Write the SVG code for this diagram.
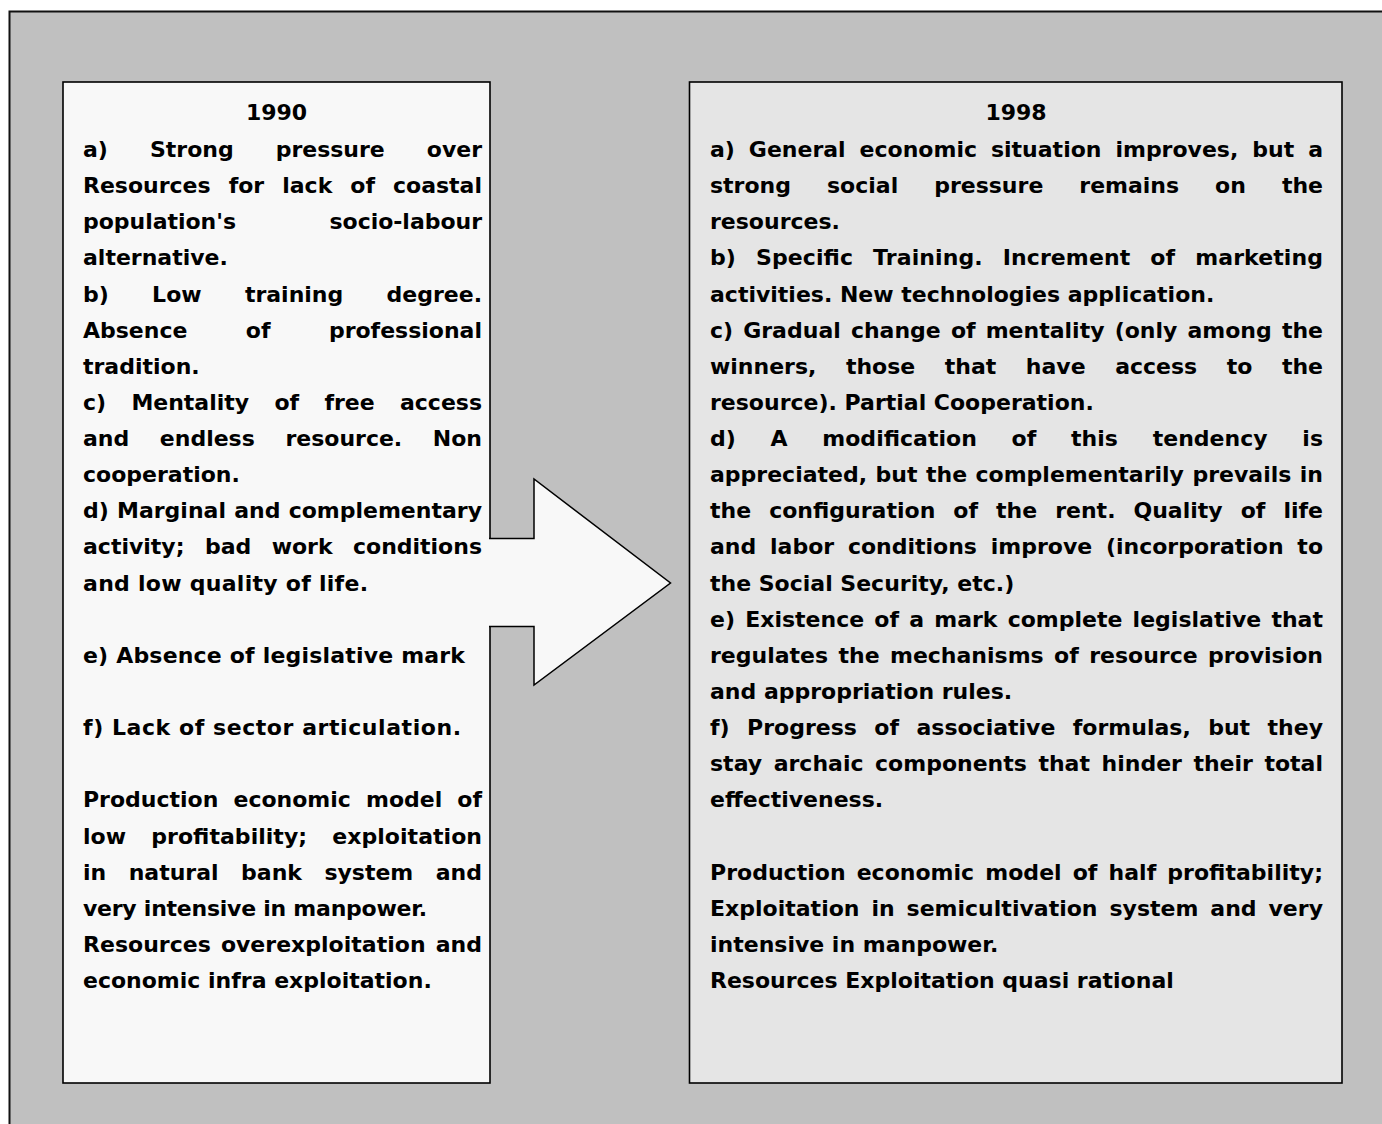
<svg xmlns="http://www.w3.org/2000/svg" width="1382" height="1124" viewBox="0 0 1382 1124">
<style>
.t{font-family:"DejaVu Sans",Verdana,sans-serif;font-weight:bold;font-size:22px;fill:#000}
.c{text-anchor:middle}
.box{stroke:#000;stroke-width:1.6}
</style>
<rect x="0" y="0" width="1382" height="1124" fill="#ffffff"/>
<rect id="frame" x="9.5" y="11.5" width="1390" height="1130" fill="#c0c0c0" stroke="#111" stroke-width="2"/>
<g id="panel-1990">
<rect class="box" x="63" y="82" width="427" height="1001" fill="#f8f8f8"/>
<text class="t c" x="276.5" y="120">1990</text>
<text class="t" x="83" y="157" style="word-spacing:34.35px" textLength="399" lengthAdjust="spacing">a) Strong pressure over</text>
<text class="t" x="83" y="193.1" style="word-spacing:10.37px" textLength="399" lengthAdjust="spacing">Resources for lack of coastal</text>
<text class="t" x="83" y="229.3" style="word-spacing:85.85px" textLength="399" lengthAdjust="spacing">population's socio-labour</text>
<text class="t" x="83" y="265.4">alternative.</text>
<text class="t" x="83" y="301.5" style="word-spacing:35.66px" textLength="399" lengthAdjust="spacing">b) Low training degree.</text>
<text class="t" x="83" y="337.7" style="word-spacing:50.75px" textLength="399" lengthAdjust="spacing">Absence of professional</text>
<text class="t" x="83" y="373.8">tradition.</text>
<text class="t" x="83" y="409.9" style="word-spacing:17.63px" textLength="399" lengthAdjust="spacing">c) Mentality of free access</text>
<text class="t" x="83" y="446" style="word-spacing:22.94px" textLength="399" lengthAdjust="spacing">and endless resource. Non</text>
<text class="t" x="83" y="482.2">cooperation.</text>
<text class="t" x="83" y="518.3" style="word-spacing:0.55px" textLength="399" lengthAdjust="spacing">d) Marginal and complementary</text>
<text class="t" x="83" y="554.4" style="word-spacing:12.77px" textLength="399" lengthAdjust="spacing">activity; bad work conditions</text>
<text class="t" x="83" y="590.6" textLength="285" lengthAdjust="spacing">and low quality of life.</text>
<text class="t" x="83" y="662.8" textLength="382" lengthAdjust="spacing">e) Absence of legislative mark</text>
<text class="t" x="83" y="735.1" textLength="378" lengthAdjust="spacing">f) Lack of sector articulation.</text>
<text class="t" x="83" y="807.3" style="word-spacing:7.45px" textLength="399" lengthAdjust="spacing">Production economic model of</text>
<text class="t" x="83" y="843.5" style="word-spacing:17.42px" textLength="399" lengthAdjust="spacing">low profitability; exploitation</text>
<text class="t" x="83" y="879.6" style="word-spacing:14.81px" textLength="399" lengthAdjust="spacing">in natural bank system and</text>
<text class="t" x="83" y="915.7" textLength="344" lengthAdjust="spacing">very intensive in manpower.</text>
<text class="t" x="83" y="951.9" style="word-spacing:2.44px" textLength="399" lengthAdjust="spacing">Resources overexploitation and</text>
<text class="t" x="83" y="988">economic infra exploitation.</text>
</g>
<g id="panel-1998">
<rect class="box" x="689.5" y="82" width="652.5" height="1001" fill="#e5e5e5"/>
<text class="t c" x="1016" y="120">1998</text>
<text class="t" x="710" y="157" style="word-spacing:6.30px" textLength="613" lengthAdjust="spacing">a) General economic situation improves, but a</text>
<text class="t" x="710" y="193.1" style="word-spacing:28.34px" textLength="613" lengthAdjust="spacing">strong social pressure remains on the</text>
<text class="t" x="710" y="229.3">resources.</text>
<text class="t" x="710" y="265.4" style="word-spacing:12.29px" textLength="613" lengthAdjust="spacing">b) Specific Training. Increment of marketing</text>
<text class="t" x="710" y="301.5">activities. New technologies application.</text>
<text class="t" x="710" y="337.7" style="word-spacing:2.46px" textLength="613" lengthAdjust="spacing">c) Gradual change of mentality (only among the</text>
<text class="t" x="710" y="373.8" style="word-spacing:21.89px" textLength="613" lengthAdjust="spacing">winners, those that have access to the</text>
<text class="t" x="710" y="409.9">resource). Partial Cooperation.</text>
<text class="t" x="710" y="446" style="word-spacing:27.01px" textLength="613" lengthAdjust="spacing">d) A modification of this tendency is</text>
<text class="t" x="710" y="482.2" style="word-spacing:0.81px" textLength="613" lengthAdjust="spacing">appreciated, but the complementarily prevails in</text>
<text class="t" x="710" y="518.3" style="word-spacing:10.34px" textLength="613" lengthAdjust="spacing">the configuration of the rent. Quality of life</text>
<text class="t" x="710" y="554.4" style="word-spacing:6.11px" textLength="613" lengthAdjust="spacing">and labor conditions improve (incorporation to</text>
<text class="t" x="710" y="590.6">the Social Security, etc.)</text>
<text class="t" x="710" y="626.7" style="word-spacing:2.51px" textLength="613" lengthAdjust="spacing">e) Existence of a mark complete legislative that</text>
<text class="t" x="710" y="662.8" style="word-spacing:2.74px" textLength="613" lengthAdjust="spacing">regulates the mechanisms of resource provision</text>
<text class="t" x="710" y="699">and appropriation rules.</text>
<text class="t" x="710" y="735.1" style="word-spacing:9.79px" textLength="613" lengthAdjust="spacing">f) Progress of associative formulas, but they</text>
<text class="t" x="710" y="771.2" style="word-spacing:3.78px" textLength="613" lengthAdjust="spacing">stay archaic components that hinder their total</text>
<text class="t" x="710" y="807.3">effectiveness.</text>
<text class="t" x="710" y="879.6" style="word-spacing:3.43px" textLength="613" lengthAdjust="spacing">Production economic model of half profitability;</text>
<text class="t" x="710" y="915.7" style="word-spacing:4.26px" textLength="613" lengthAdjust="spacing">Exploitation in semicultivation system and very</text>
<text class="t" x="710" y="951.9">intensive in manpower.</text>
<text class="t" x="710" y="988">Resources Exploitation quasi rational</text>
</g>
<g id="connectors">
<g id="arrow-1990-1998">
<polygon points="488,538.5 534,538.5 534,479 670.5,583 534,685 534,626.5 488,626.5" fill="#f8f8f8" stroke="none"/>
<polyline points="489,538.5 534,538.5 534,479 670.5,583 534,685 534,626.5 489,626.5" fill="none" stroke="#000" stroke-width="1.5" stroke-linejoin="miter"/>
</g>
</g>
</svg>
